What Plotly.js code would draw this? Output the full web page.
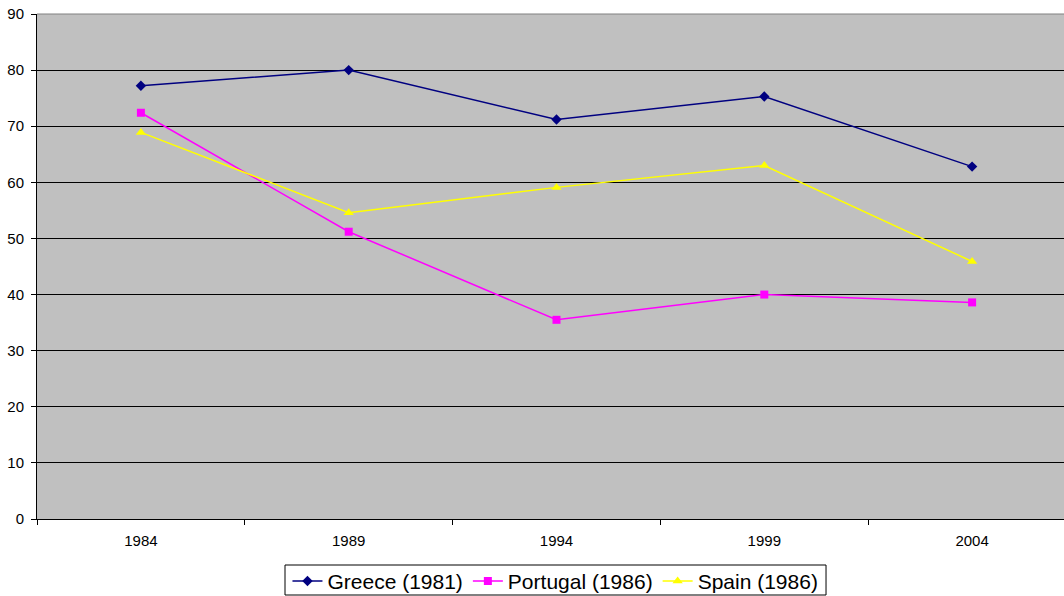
<!DOCTYPE html>
<html><head><meta charset="utf-8">
<script src="https://cdn.plot.ly/plotly-3.0.1.min.js"></script>
<style>html,body{margin:0;padding:0;overflow:hidden;background:#fff}#chart{width:1076px;height:596px}</style>
</head><body><div id="chart"></div>
<script>
const years = ['1984','1989','1994','1999','2004'];
const greece = [77.2, 80.0, 71.2, 75.3, 62.8];
const portugal = [72.4, 51.2, 35.5, 40.0, 38.6];
const spain = [68.9, 54.6, 59.1, 63.0, 45.9];
const seriesNames = ['Greece (1981)', 'Portugal (1986)', 'Spain (1986)'];
const yTicks = [0,10,20,30,40,50,60,70,80,90];

const idx = years.map((_, i) => i);
const traces = [
  {x: idx, y: greece, name: seriesNames[0], mode: 'lines+markers', line: {color: '#000080', width: 1.5}, marker: {symbol: 'diamond', size: 8, color: '#000080'}},
  {x: idx, y: portugal, name: seriesNames[1], mode: 'lines+markers', line: {color: '#FF00FF', width: 1.5}, marker: {symbol: 'square', size: 8, color: '#FF00FF'}},
  {x: idx, y: spain, name: seriesNames[2], mode: 'lines+markers', line: {color: '#FFFF00', width: 1.5}, marker: {symbol: 'triangle-up', size: 9, color: '#FFFF00'}}
];
const bounds = [];
for (let i = 0; i <= years.length; i++) bounds.push(i - 0.5);

const layout = {
  width: 1076, height: 596,
  margin: {l: 37, r: 0, t: 14, b: 77, autoexpand: false},
  paper_bgcolor: '#ffffff', plot_bgcolor: '#C0C0C0',
  font: {family: 'Liberation Sans, Arial, sans-serif', color: '#000', size: 15},
  showlegend: true,
  legend: {orientation: 'h', x: 0.499, xanchor: 'center', y: -0.083, yanchor: 'top',
           borderwidth: 0, bgcolor: 'rgba(0,0,0,0)', font: {size: 21},
           traceorder: 'normal', itemwidth: 30},
  xaxis: {range: [-0.5, years.length - 0.5], tickmode: 'array', tickvals: idx, ticktext: years,
          ticks: '', showgrid: false, zeroline: false, showline: true, linecolor: '#000', linewidth: 1,
          tickfont: {size: 15}, ticklabelstandoff: 8,
          minor: {tickmode: 'array', tickvals: bounds, ticks: 'outside', ticklen: 5, tickcolor: '#000', tickwidth: 1, showgrid: false}},
  yaxis: {range: [0, 90], tickmode: 'array', tickvals: yTicks, ticks: 'outside', ticklen: 5, tickcolor: '#000',
          showgrid: true, gridcolor: '#000', gridwidth: 1, zeroline: false, showline: true, linecolor: '#000', linewidth: 1,
          tickfont: {size: 15}, ticklabelstandoff: 4},
  shapes: [
    {type: 'line', xref: 'paper', yref: 'paper', x0: 0, x1: 1, y0: 1, y1: 1, line: {color: '#808080', width: 1}},
    {type: 'rect', xref: 'paper', yref: 'paper', x0: 0.2387, x1: 0.7594, y0: -0.0911, y1: -0.1505, line: {color: '#000', width: 1}, fillcolor: 'rgba(0,0,0,0)', layer: 'above'}
  ]
};
Plotly.newPlot('chart', traces, layout, {displayModeBar: false, staticPlot: true});
</script></body></html>
